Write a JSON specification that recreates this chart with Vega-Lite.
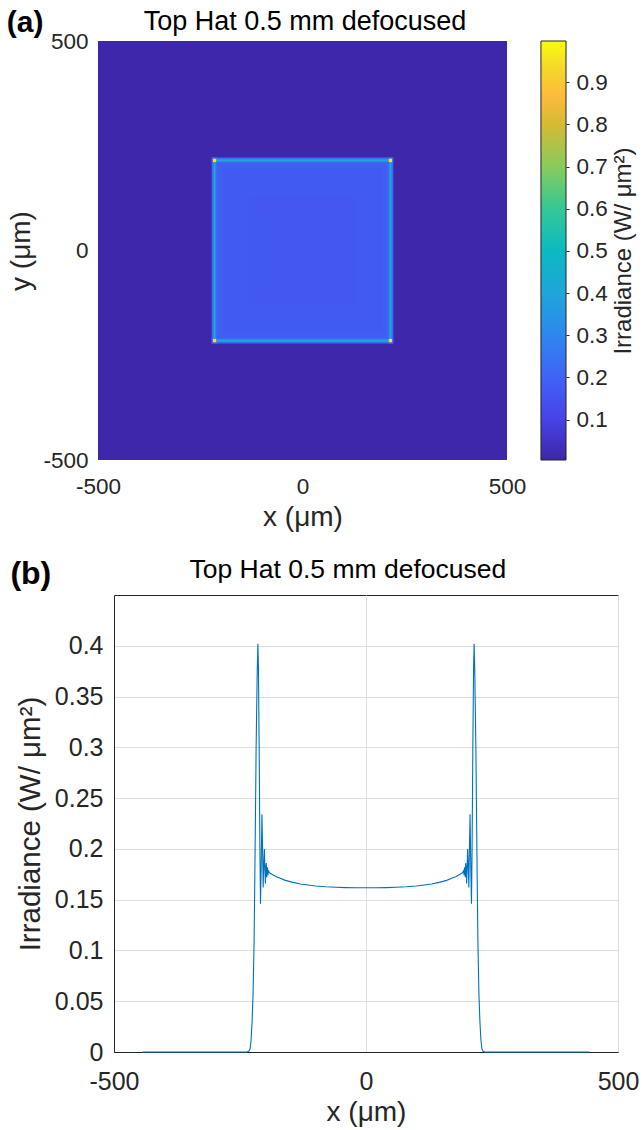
{
  "$schema": "https://vega.github.io/schema/vega-lite/v6.json",
  "background": "white",
  "padding": {"left": 6, "top": 7, "right": 0, "bottom": 0},
  "config": {
    "font": "Liberation Sans",
    "view": {"stroke": null},
    "axis": {"labelColor": "#262626", "titleColor": "#262626", "titleFontWeight": "normal", "labelFlush": false, "labelOverlap": false}
  },
  "datasets": {
    "heat": [
      {"x1": -500, "x2": 500, "y1": -500, "y2": 500, "v": 0.005},
      {"x1": -216, "x2": 216, "y1": -216, "y2": 216, "v": 0.19},
      {"x1": -208, "x2": 208, "y1": -208, "y2": 208, "v": 0.178},
      {"x1": -195, "x2": 195, "y1": -195, "y2": 195, "v": 0.172},
      {"x1": -170, "x2": 170, "y1": -170, "y2": 170, "v": 0.168},
      {"x1": -130, "x2": 130, "y1": -130, "y2": 130, "v": 0.165},
      {"x1": -80, "x2": 80, "y1": -80, "y2": 80, "v": 0.163},
      {"x1": -222, "x2": -208, "y1": -222, "y2": 222, "v": 0.22},
      {"x1": 208, "x2": 222, "y1": -222, "y2": 222, "v": 0.22},
      {"x1": -222, "x2": 222, "y1": -222, "y2": -208, "v": 0.22},
      {"x1": -222, "x2": 222, "y1": 208, "y2": 222, "v": 0.22},
      {"x1": -217.5, "x2": -212.5, "y1": -217.5, "y2": 217.5, "v": 0.42},
      {"x1": 212.5, "x2": 217.5, "y1": -217.5, "y2": 217.5, "v": 0.42},
      {"x1": -217.5, "x2": 217.5, "y1": -217.5, "y2": -212.5, "v": 0.42},
      {"x1": -217.5, "x2": 217.5, "y1": 212.5, "y2": 217.5, "v": 0.42},
      {"x1": -219, "x2": -211, "y1": 211, "y2": 219, "v": 0.95},
      {"x1": 211, "x2": 219, "y1": 211, "y2": 219, "v": 0.95},
      {"x1": -219, "x2": -211, "y1": -219, "y2": -211, "v": 0.95},
      {"x1": 211, "x2": 219, "y1": -219, "y2": -211, "v": 0.95}
    ],
    "profile": [
      {"x": -443, "y": 0}, {"x": -236, "y": 0}, {"x": -232, "y": 0.001}, {"x": -230, "y": 0.003},
      {"x": -228, "y": 0.012}, {"x": -226, "y": 0.03}, {"x": -224, "y": 0.058}, {"x": -222, "y": 0.11},
      {"x": -220, "y": 0.2}, {"x": -218, "y": 0.3}, {"x": -216, "y": 0.37}, {"x": -214.5, "y": 0.402},
      {"x": -213.5, "y": 0.38}, {"x": -212, "y": 0.3}, {"x": -210.5, "y": 0.2}, {"x": -209.3, "y": 0.146},
      {"x": -208, "y": 0.18}, {"x": -206.5, "y": 0.234}, {"x": -205.2, "y": 0.2}, {"x": -204, "y": 0.162},
      {"x": -202.8, "y": 0.185}, {"x": -201.6, "y": 0.2}, {"x": -200.6, "y": 0.18}, {"x": -199.6, "y": 0.166},
      {"x": -198.7, "y": 0.182}, {"x": -197.8, "y": 0.186}, {"x": -197, "y": 0.172}, {"x": -196.2, "y": 0.178},
      {"x": -195.4, "y": 0.182}, {"x": -194.6, "y": 0.174}, {"x": -193.6, "y": 0.179}, {"x": -192.5, "y": 0.177},
      {"x": -190, "y": 0.176}, {"x": -185, "y": 0.1745}, {"x": -178, "y": 0.1725}, {"x": -170, "y": 0.171},
      {"x": -160, "y": 0.169}, {"x": -145, "y": 0.167}, {"x": -130, "y": 0.1655}, {"x": -115, "y": 0.1645},
      {"x": -100, "y": 0.1635}, {"x": -80, "y": 0.1627}, {"x": -60, "y": 0.1622}, {"x": -40, "y": 0.1619},
      {"x": -20, "y": 0.1617}, {"x": 0, "y": 0.1617},
      {"x": 20, "y": 0.1617}, {"x": 40, "y": 0.1619}, {"x": 60, "y": 0.1622}, {"x": 80, "y": 0.1627},
      {"x": 100, "y": 0.1635}, {"x": 115, "y": 0.1645}, {"x": 130, "y": 0.1655}, {"x": 145, "y": 0.167},
      {"x": 160, "y": 0.169}, {"x": 170, "y": 0.171}, {"x": 178, "y": 0.1725}, {"x": 185, "y": 0.1745},
      {"x": 190, "y": 0.176}, {"x": 192.5, "y": 0.177}, {"x": 193.6, "y": 0.179}, {"x": 194.6, "y": 0.174},
      {"x": 195.4, "y": 0.182}, {"x": 196.2, "y": 0.178}, {"x": 197, "y": 0.172}, {"x": 197.8, "y": 0.186},
      {"x": 198.7, "y": 0.182}, {"x": 199.6, "y": 0.166}, {"x": 200.6, "y": 0.18}, {"x": 201.6, "y": 0.2},
      {"x": 202.8, "y": 0.185}, {"x": 204, "y": 0.162}, {"x": 205.2, "y": 0.2}, {"x": 206.5, "y": 0.234},
      {"x": 208, "y": 0.18}, {"x": 209.3, "y": 0.146}, {"x": 210.5, "y": 0.2}, {"x": 212, "y": 0.3},
      {"x": 213.5, "y": 0.38}, {"x": 214.5, "y": 0.402}, {"x": 216, "y": 0.37}, {"x": 218, "y": 0.3},
      {"x": 220, "y": 0.2}, {"x": 222, "y": 0.11}, {"x": 224, "y": 0.058}, {"x": 226, "y": 0.03},
      {"x": 228, "y": 0.012}, {"x": 230, "y": 0.003}, {"x": 232, "y": 0.001}, {"x": 236, "y": 0}, {"x": 443, "y": 0}
    ]
  },
  "concat": [
    {
      "width": 393,
      "height": 419,
      "layer": [
        {
          "layer": [
            {
              "data": {"name": "heat"},
              "mark": {"type": "rect"},
              "encoding": {
                "x": {"field": "x1", "type": "quantitative", "scale": {"domain": [-500, 500], "range": [-16, 393], "nice": false, "zero": false},
                  "axis": {"values": [-500, 0, 500], "labelExpr": "'' + datum.value", "title": "x (μm)", "labelFontSize": 22.5, "titleFontSize": 28, "ticks": false, "domain": false, "grid": false, "labelPadding": 15, "titlePadding": 6, "titleX": 188.5}},
                "x2": {"field": "x2"},
                "y": {"field": "y1", "type": "quantitative", "scale": {"domain": [-500, 500], "nice": false, "zero": false},
                  "axis": {"values": [-500, 0, 500], "labelExpr": "'' + datum.value", "title": "y (μm)", "offset": 16, "labelFontSize": 22.5, "titleFontSize": 28, "ticks": false, "domain": false, "grid": false, "labelPadding": 10, "titlePadding": 7}},
                "y2": {"field": "y2"},
                "color": {"field": "v", "type": "quantitative", "legend": null,
                  "scale": {"domain": [0, 0.1, 0.2, 0.3, 0.4, 0.5, 0.6, 0.7, 0.8, 0.87, 0.93, 1],
                    "range": ["#3E26A8", "#4743E8", "#3F64F6", "#2D88EE", "#1EA5DA", "#0BBAC1", "#35C796", "#87CB5C", "#D4BA35", "#FDBB3B", "#F4D52C", "#F9FB0E"], "interpolate": "rgb"}}
              }
            },
            {
              "data": {"values": [{"label": "(a)"}]},
              "mark": {"type": "text", "fontSize": 30, "fontWeight": "bold", "align": "center", "baseline": "middle", "color": "#000000"},
              "encoding": {
                "x": {"datum": -678, "type": "quantitative", "scale": {"domain": [-500, 500], "range": [-16, 393], "nice": false, "zero": false}},
                "y": {"datum": 544, "type": "quantitative", "scale": {"domain": [-500, 500], "nice": false, "zero": false}},
                "text": {"field": "label"}
              }
            },
            {
              "data": {"values": [{"label": "Top Hat 0.5 mm defocused"}]},
              "mark": {"type": "text", "fontSize": 27, "align": "center", "baseline": "alphabetic", "color": "#000000"},
              "encoding": {
                "x": {"datum": 6, "type": "quantitative", "scale": {"domain": [-500, 500], "range": [-16, 393], "nice": false, "zero": false}},
                "y": {"datum": 526, "type": "quantitative", "scale": {"domain": [-500, 500], "nice": false, "zero": false}},
                "text": {"field": "label"}
              }
            }
          ]
        },
        {
          "data": {"values": [{"lo": 0.004, "hi": 0.998}]},
          "mark": {"type": "rect", "stroke": "#262626", "strokeWidth": 1, "color": {"gradient": "linear", "x1": 0, "y1": 1, "x2": 0, "y2": 0,
            "stops": [
              {"offset": 0, "color": "#3E26A8"}, {"offset": 0.1, "color": "#4743E8"}, {"offset": 0.2, "color": "#3F64F6"},
              {"offset": 0.3, "color": "#2D88EE"}, {"offset": 0.4, "color": "#1EA5DA"}, {"offset": 0.5, "color": "#0BBAC1"},
              {"offset": 0.6, "color": "#35C796"}, {"offset": 0.7, "color": "#87CB5C"}, {"offset": 0.8, "color": "#D4BA35"},
              {"offset": 0.87, "color": "#FDBB3B"}, {"offset": 0.93, "color": "#F4D52C"}, {"offset": 1, "color": "#F9FB0E"}
            ]}},
          "encoding": {
            "x": {"datum": 583, "type": "quantitative", "scale": {"domain": [-500, 500], "range": [-16, 393], "nice": false, "zero": false}},
            "x2": {"datum": 644.3},
            "y": {"field": "lo", "type": "quantitative", "scale": {"domain": [0.004, 0.998], "nice": false, "zero": false},
              "axis": {"orient": "right", "offset": 59, "values": [0.1, 0.2, 0.3, 0.4, 0.5, 0.6, 0.7, 0.8, 0.9], "labelExpr": "'' + datum.value", "title": "Irradiance (W/ μm²)", "titleAngle": 270, "titleBaseline": "top", "titleFontSize": 24, "labelFontSize": 22.5, "ticks": true, "tickSize": 3, "tickColor": "#262626", "domain": false, "grid": false, "labelPadding": 7, "titlePadding": 4}},
            "y2": {"field": "hi"}
          }
        }
      ],
      "resolve": {"scale": {"y": "independent"}, "axis": {"y": "independent"}}
    },
    {
      "width": 504,
      "height": 457,
      "view": {"stroke": "#262626", "strokeWidth": 1},
      "layer": [
        {
          "data": {"name": "profile"},
          "mark": {"type": "line", "color": "#0072BD", "strokeWidth": 1.1},
          "encoding": {
            "x": {"field": "x", "type": "quantitative", "scale": {"domain": [-500, 500], "nice": false, "zero": false},
              "axis": {"values": [-500, 0, 500], "labelExpr": "'' + datum.value", "title": "x (μm)", "labelFontSize": 25, "titleFontSize": 28, "ticks": false, "domain": true, "domainColor": "#262626", "grid": true, "gridColor": "#dedede", "labelPadding": 17, "titlePadding": 4}},
            "y": {"field": "y", "type": "quantitative", "scale": {"domain": [0, 0.45], "nice": false, "zero": false},
              "axis": {"values": [0, 0.05, 0.1, 0.15, 0.2, 0.25, 0.3, 0.35, 0.4], "labelExpr": "'' + datum.value", "title": "Irradiance (W/ μm²)", "labelFontSize": 25, "titleFontSize": 29.5, "ticks": false, "domain": true, "domainColor": "#262626", "grid": true, "gridColor": "#dedede", "labelPadding": 11, "titlePadding": 9}}
          }
        },
        {
          "data": {"values": [{"label": "(b)"}]},
          "mark": {"type": "text", "fontSize": 32, "fontWeight": "bold", "align": "center", "baseline": "middle", "color": "#000000"},
          "encoding": {
            "x": {"datum": -665, "type": "quantitative", "scale": {"domain": [-500, 500], "nice": false, "zero": false}},
            "y": {"datum": 0.4707, "type": "quantitative", "scale": {"domain": [0, 0.45], "nice": false, "zero": false}},
            "text": {"field": "label"}
          }
        },
        {
          "data": {"values": [{"label": "Top Hat 0.5 mm defocused"}]},
          "mark": {"type": "text", "fontSize": 26.5, "align": "center", "baseline": "alphabetic", "color": "#000000"},
          "encoding": {
            "x": {"datum": -36, "type": "quantitative", "scale": {"domain": [-500, 500], "nice": false, "zero": false}},
            "y": {"datum": 0.4667, "type": "quantitative", "scale": {"domain": [0, 0.45], "nice": false, "zero": false}},
            "text": {"field": "label"}
          }
        }
      ]
    }
  ],
  "columns": 1,
  "align": {"column": "all", "row": "none"},
  "spacing": 24
}
